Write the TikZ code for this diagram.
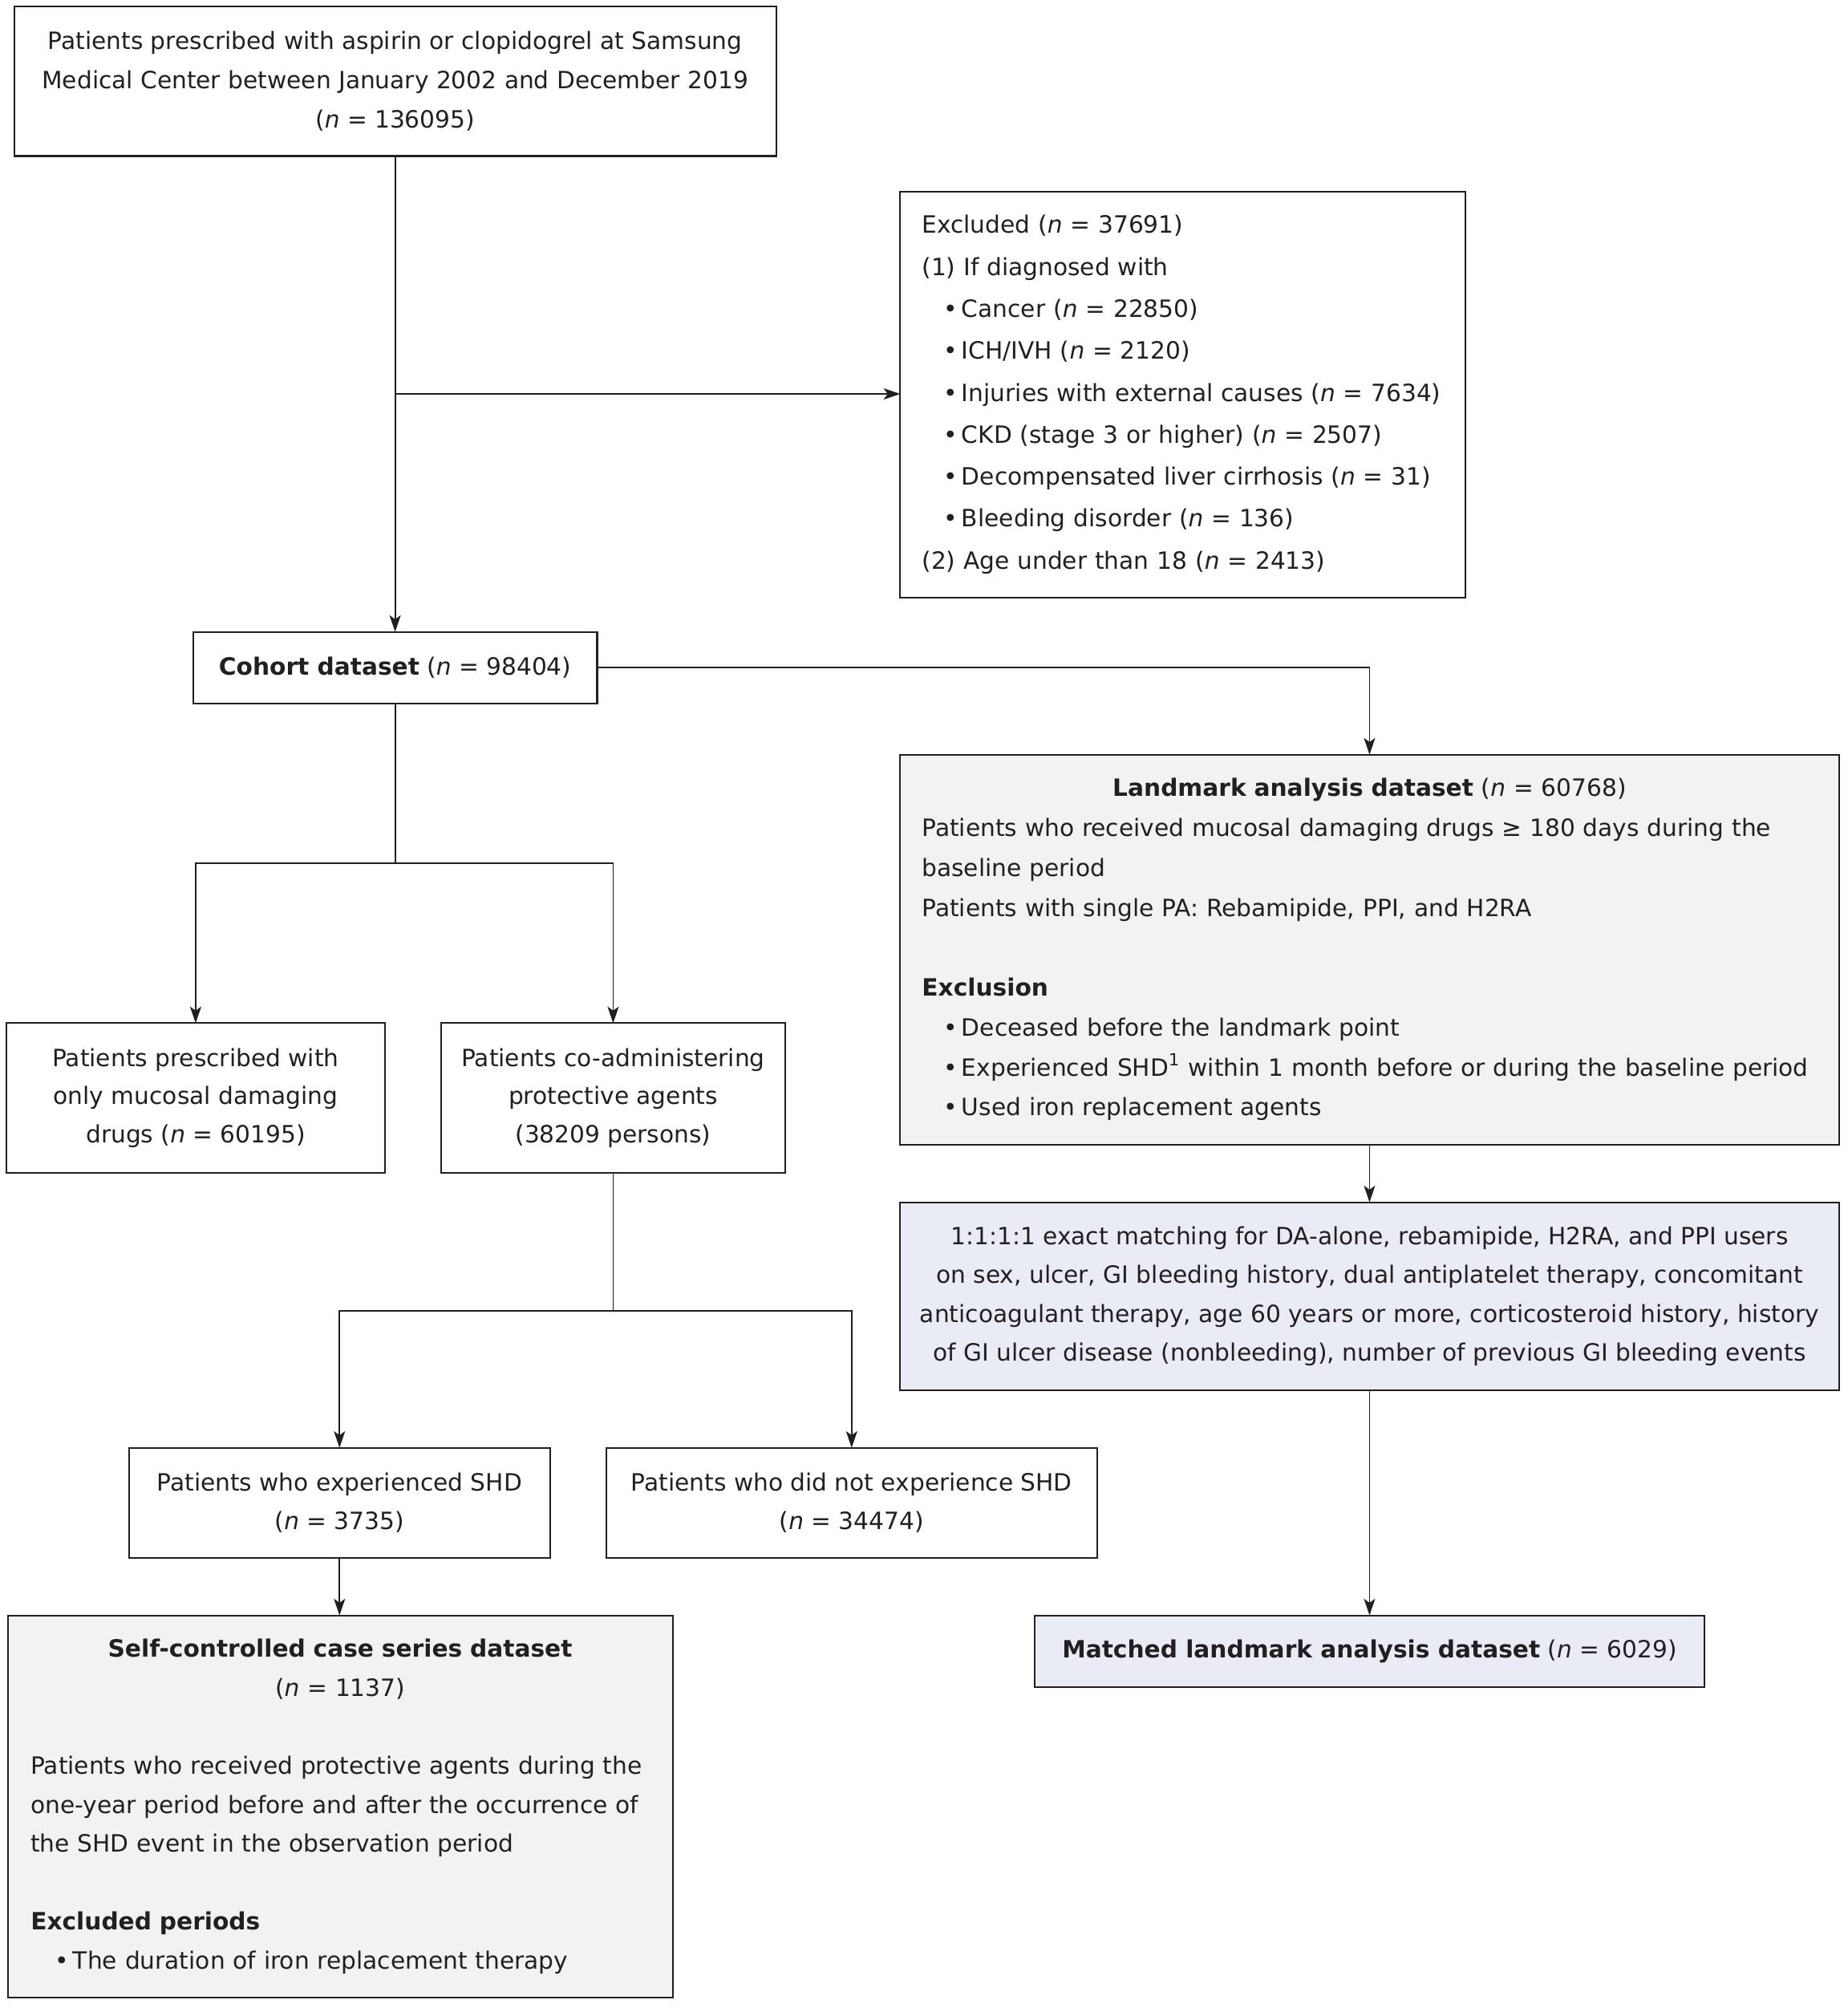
\documentclass[tikz,border=0pt]{standalone}
\usepackage{fontspec}
\setmainfont{DejaVu Sans}
\usetikzlibrary{arrows.meta}
\definecolor{ink}{HTML}{231F20}
\definecolor{grayfill}{HTML}{F2F2F2}
\definecolor{bluefill}{HTML}{E9EBF5}
\newcommand{\mybul}{\hspace*{8.5pt}•\,}
\begin{document}
\begin{tikzpicture}[x=0.5pt,y=-0.5pt,
  box/.style={draw=ink, line width=0.65pt, text=ink, inner sep=0pt, outer sep=0pt, align=center},
  arr/.style={draw=ink, line width=0.55pt, -{Stealth[length=6.5pt,width=4.4pt,inset=1.6pt]}},
  ln/.style={draw=ink, line width=0.55pt}]
\useasboundingbox[fill=white] (0,0) rectangle (1445,1570);

\node[box, minimum width=298pt, minimum height=58.5pt, font=\fontsize{9.3}{15.5}\selectfont] (top) at (309,63.5)
 {Patients prescribed with aspirin or clopidogrel at Samsung\\Medical Center between January 2002 and December 2019\\(\textit{n} = 136095)};

\node[box, minimum height=158.5pt, text width=204pt, inner xsep=8.5pt, align=left, font=\fontsize{9.3}{16.4}\selectfont] (ex) at (925,308.5)
 {Excluded (\textit{n} = 37691)\\(1) If diagnosed with\\\mybul Cancer (\textit{n} = 22850)\\\mybul ICH/IVH (\textit{n} = 2120)\\\mybul Injuries with external causes (\textit{n} = 7634)\\\mybul CKD (stage 3 or higher) (\textit{n} = 2507)\\\mybul Decompensated liver cirrhosis (\textit{n} = 31)\\\mybul Bleeding disorder (\textit{n} = 136)\\(2) Age under than 18 (\textit{n} = 2413)};

\node[box, minimum width=158pt, minimum height=28pt, font=\fontsize{9.3}{15}\selectfont] (coh) at (309,522)
 {\textbf{Cohort dataset} (\textit{n} = 98404)};

\node[box, fill=grayfill, minimum height=152.5pt, text width=350pt, inner xsep=8.5pt, align=left, font=\fontsize{9.3}{15.6}\selectfont] (lm) at (1071,742.5)
 {\makebox[350pt][c]{\textbf{Landmark analysis dataset} (\textit{n} = 60768)}\\Patients who received mucosal damaging drugs ≥ 180 days during the\\baseline period\\Patients with single PA: Rebamipide, PPI, and H2RA\\[15.6pt]\textbf{Exclusion}\\\mybul Deceased before the landmark point\\\mybul Experienced SHD\textsuperscript{1} within 1 month before or during the baseline period\\\mybul Used iron replacement agents};

\node[box, fill=bluefill, minimum width=367pt, minimum height=73.5pt, font=\fontsize{9.3}{15.2}\selectfont] (mt) at (1071,1013.5)
 {1:1:1:1 exact matching for DA-alone, rebamipide, H2RA, and PPI users\\on sex, ulcer, GI bleeding history, dual antiplatelet therapy, concomitant\\anticoagulant therapy, age 60 years or more, corticosteroid history, history\\of GI ulcer disease (nonbleeding), number of previous GI bleeding events};

\node[box, fill=bluefill, minimum width=262pt, minimum height=28pt, font=\fontsize{9.3}{15}\selectfont] (md) at (1071,1291)
 {\textbf{Matched landmark analysis dataset} (\textit{n} = 6029)};

\node[box, minimum width=148pt, minimum height=58.5pt, font=\fontsize{9.3}{15}\selectfont] (mu) at (153,858.5)
 {Patients prescribed with\\only mucosal damaging\\drugs (\textit{n} = 60195)};

\node[box, minimum width=134.5pt, minimum height=58.5pt, font=\fontsize{9.3}{15}\selectfont] (co) at (479.5,858.5)
 {Patients co-administering\\protective agents\\(38209 persons)};

\node[box, minimum width=164.5pt, minimum height=43pt, font=\fontsize{9.3}{15}\selectfont] (s1) at (265.5,1175)
 {Patients who experienced SHD\\(\textit{n} = 3735)};

\node[box, minimum width=192pt, minimum height=43pt, font=\fontsize{9.3}{15}\selectfont] (s2) at (666,1175)
 {Patients who did not experience SHD\\(\textit{n} = 34474)};

\node[box, fill=grayfill, minimum height=149.5pt, text width=242pt, inner xsep=9pt, align=left, font=\fontsize{9.3}{15.25}\selectfont] (sc) at (266,1412.5)
 {\makebox[242pt][c]{\textbf{Self-controlled case series dataset}}\\\makebox[242pt][c]{(\textit{n} = 1137)}\\[15.25pt]Patients who received protective agents during the\\one-year period before and after the occurrence of\\the SHD event in the observation period\\[15.25pt]\textbf{Excluded periods}\\\hspace*{9.5pt}•\,The duration of iron replacement therapy};

\draw[arr] (top) -- (coh);
\coordinate (j1) at (309,308);
\draw[arr] (j1) -- (j1 -| ex.west);
\draw[arr] (coh.east) -| (lm.north);
\draw[arr] (lm) -- (mt);
\draw[arr] (mt) -- (md);
\coordinate (j2) at (309,675);
\draw[ln] (coh.south) -- (j2);
\draw[arr] (j2) -| (mu.north);
\draw[arr] (j2) -| (co.north);
\coordinate (j3) at (479.5,1025);
\draw[ln] (co.south) -- (j3);
\draw[arr] (j3) -| (s1.north);
\draw[arr] (j3) -| (s2.north);
\draw[arr] (s1.south) -- (s1.south |- sc.north);
\end{tikzpicture}
\end{document}
